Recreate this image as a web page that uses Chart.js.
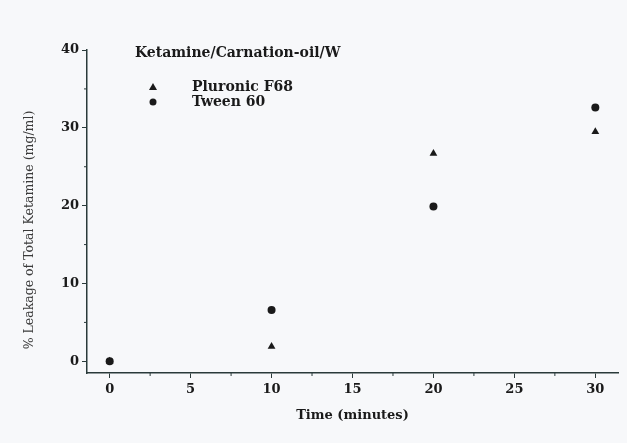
<!DOCTYPE html>
<html><head><meta charset="utf-8">
<script src="https://cdn.jsdelivr.net/npm/chart.js@4"></script>
<style>html,body{margin:0;padding:0;background:#f7f8fa;}#wrap{width:627px;height:443px;}</style>
</head><body><div id="wrap"><canvas id="c" width="627" height="443"></canvas></div>
<script>
const times = [0, 10, 20, 30];
const pluronicF68 = [0, 1.9, 26.7, 29.5];
const tween60 = [0, 6.6, 19.9, 32.6];
const xTicks = [0, 5, 10, 15, 20, 25, 30];
const xMinorTicks = [2.5, 7.5, 12.5, 17.5, 22.5, 27.5];
const yTicks = [0, 10, 20, 30, 40];
const yMinorTicks = [5, 15, 25, 35];
const chartTitle = 'Ketamine/Carnation-oil/W';
const seriesNames = ['Pluronic F68', 'Tween 60'];
const xTitle = 'Time (minutes)';
const yTitle = '% Leakage of Total Ketamine (mg/ml)';

const ink = '#1a1a1a';
const serif = "'DejaVu Serif', 'Liberation Serif', serif";

const overlay = {
  id: 'overlay',
  afterDraw(chart) {
    const ctx = chart.ctx, ca = chart.chartArea;
    const xs = chart.scales.x, ys = chart.scales.y;
    ctx.save();
    ctx.strokeStyle = '#2a3a3a';
    ctx.lineWidth = 1;
    xMinorTicks.forEach(v => {
      const px = xs.getPixelForValue(v);
      ctx.beginPath(); ctx.moveTo(px, ca.bottom); ctx.lineTo(px, ca.bottom + 3); ctx.stroke();
    });
    yMinorTicks.forEach(v => {
      const py = ys.getPixelForValue(v);
      ctx.beginPath(); ctx.moveTo(ca.left, py); ctx.lineTo(ca.left - 3, py); ctx.stroke();
    });
    ctx.fillStyle = ink;
    ctx.textBaseline = 'middle';
    ctx.textAlign = 'left';
    ctx.font = 'bold 14px ' + serif;
    ctx.fillText(chartTitle, ca.left + 48, ca.top + 3);
    ctx.fillText(seriesNames[0], ca.left + 105, ca.top + 37);
    ctx.fillText(seriesNames[1], ca.left + 105, ca.top + 52);
    const mx = ca.left + 66;
    let my = ca.top + 37;
    ctx.beginPath();
    ctx.moveTo(mx, my - 4); ctx.lineTo(mx + 4, my + 3); ctx.lineTo(mx - 4, my + 3); ctx.closePath(); ctx.fill();
    my = ca.top + 52;
    ctx.beginPath(); ctx.arc(mx, my, 3.5, 0, Math.PI * 2); ctx.fill();
    // x title
    ctx.textAlign = 'center';
    ctx.font = 'bold 13px ' + serif;
    ctx.fillText(xTitle, (ca.left + ca.right) / 2, ca.bottom + 43);
    // y title
    ctx.font = '12.5px ' + serif;
    ctx.fillStyle = '#3a3a3a';
    ctx.translate(30, 230);
    ctx.rotate(-Math.PI / 2);
    ctx.fillText(yTitle, 0, 0);
    ctx.restore();
  }
};

new Chart(document.getElementById('c'), {
  type: 'scatter',
  data: {
    datasets: [
      { label: seriesNames[0], data: times.map((t, i) => ({x: t, y: pluronicF68[i]})),
        pointStyle: 'triangle', pointRadius: 4.5, backgroundColor: ink, borderColor: ink, borderWidth: 0 },
      { label: seriesNames[1], data: times.map((t, i) => ({x: t, y: tween60[i]})),
        pointStyle: 'circle', pointRadius: 4, backgroundColor: ink, borderColor: ink, borderWidth: 0 }
    ]
  },
  options: {
    responsive: false,
    animation: false,
    layout: { padding: { left: 0, right: 9, top: 50, bottom: 0 } },
    plugins: { legend: { display: false }, tooltip: { enabled: false } },
    scales: {
      x: {
        type: 'linear', min: -1.4, max: 31.4,
        afterBuildTicks: s => { s.ticks = xTicks.map(v => ({ value: v })); },
        afterFit: s => { s.height = 70; },
        grid: { drawOnChartArea: false, tickLength: 5, color: '#2a3a3a', lineWidth: 1 },
        border: { display: true, color: '#2a3a3a', width: 1.5 },
        ticks: { color: ink, font: { family: serif, size: 13, weight: 'bold' }, padding: 4, maxRotation: 0 }
      },
      y: {
        type: 'linear', min: -1.5, max: 40,
        afterBuildTicks: s => { s.ticks = yTicks.map(v => ({ value: v })); },
        afterFit: s => { s.width = 87; },
        grid: { drawOnChartArea: false, tickLength: 5, color: '#2a3a3a', lineWidth: 1 },
        border: { display: true, color: '#2a3a3a', width: 1.5 },
        ticks: { color: ink, font: { family: serif, size: 13, weight: 'bold' }, padding: 3 }
      }
    }
  },
  plugins: [overlay]
});
</script>
</body></html>
